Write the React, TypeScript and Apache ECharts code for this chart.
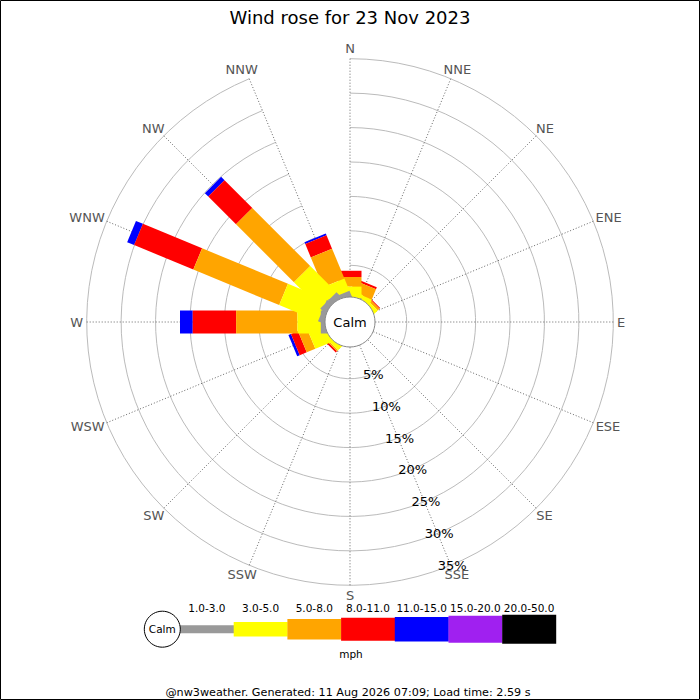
import React, { useEffect, useRef } from "react";
import * as echarts from "echarts";

// ---------- data ----------
const DIRECTIONS = ["N", "NNE", "NE", "ENE", "E", "ESE", "SE", "SSE", "S", "SSW", "SW", "WSW", "W", "WNW", "NW", "NNW"];
const SPEED_BANDS = ["1.0-3.0", "3.0-5.0", "5.0-8.0", "8.0-11.0", "11.0-15.0", "15.0-20.0", "20.0-50.0"];
const BAND_COLORS = ["#999999", "#ffff00", "#ffa500", "#ff0000", "#0000ff", "#a020f0", "#000000"];

// percentage of time per direction for each speed band (mph)
const BAND_1_3 = [0.2, 0, 0, 0, 0, 0, 0, 0, 0, 0, 0, 0, 1.0, 1.1, 1.2, 1.0];
const BAND_3_5 = [1.7, 1.0, 0.8, 0, 0, 0, 0, 0, 0, 0, 0.9, 2.9, 3.4, 6.1, 5.4, 1.9];
const BAND_5_8 = [1.4, 1.6, 0.35, 0, 0, 0, 0, 0, 0, 0, 0.2, 1.35, 8.9, 13.5, 11.9, 4.7];
const BAND_8_11 = [0.9, 0.3, 0.15, 0, 0, 0, 0, 0, 0, 0, 0.25, 1.1, 6.3, 9.3, 5.7, 2.1];
const BAND_11_15 = [0, 0, 0, 0, 0, 0, 0, 0, 0, 0, 0, 0.4, 1.85, 1.1, 0.7, 0.3];
const BAND_15_20 = [0, 0, 0, 0, 0, 0, 0, 0, 0, 0, 0, 0, 0, 0, 0, 0];
const BAND_20_50 = [0, 0, 0, 0, 0, 0, 0, 0, 0, 0, 0, 0, 0, 0, 0, 0];
const BAND_VALUES = [BAND_1_3, BAND_3_5, BAND_5_8, BAND_8_11, BAND_11_15, BAND_15_20, BAND_20_50];

const RADIUS_MIN = 0;
const RADIUS_MAX = 35;
const RADIUS_STEP = 5;

const TITLE = "Wind rose for 23 Nov 2023";
const FOOTER = "@nw3weather. Generated: 11 Aug 2026 07:09; Load time: 2.59 s";
const SPEED_UNIT = "mph";
const CALM_LABEL = "Calm";

// ---------- layout / style ----------
const FONT = "DejaVu Sans";
const CX = 350;
const CY = 322;
const R_INNER = 22.3;
const R_OUTER = 263.3;
const CALM_R = 25;
const BAR_HALF = 11.5;
const DIR_FONT = 13;
const DIR_GAP = 3.6;
const DIR_HALF_H = 6.9;

const LEG_X0 = 180;
const LEG_W = 53.7;
const LEG_CY = 629.2;
const LEG_H = [8, 14.6, 20.6, 23, 24.6, 27, 29];
const LEG_LABEL_Y = 607.7;

function buildStacked() {
  const out: number[][][] = [];
  const acc = DIRECTIONS.map(() => 0);
  BAND_VALUES.forEach((vals) => {
    const items: number[][] = [];
    DIRECTIONS.forEach((_, d) => {
      const s = acc[d];
      const e = s + vals[d];
      acc[d] = e;
      items.push([d, s, e]);
    });
    out.push(items);
  });
  return out;
}

let measureCtx: CanvasRenderingContext2D | null = null;
function textWidth(t: string, size: number) {
  if (!measureCtx) {
    const c = document.createElement("canvas");
    measureCtx = c.getContext("2d");
  }
  if (!measureCtx) return t.length * size * 0.7;
  measureCtx.font = `${size}px "${FONT}"`;
  return measureCtx.measureText(t).width;
}

const renderBar = (params: any, api: any) => {
  const dir = api.value(0);
  const s = api.value(1);
  const e = api.value(2);
  if (!(e - s > 0)) return null;
  const cs = params.coordSys;
  const p0 = api.coord([s, dir]);
  const p1 = api.coord([e, dir]);
  let ux = p1[0] - cs.cx;
  let uy = p1[1] - cs.cy;
  const len = Math.hypot(ux, uy) || 1;
  ux /= len;
  uy /= len;
  const nx = -uy * BAR_HALF;
  const ny = ux * BAR_HALF;
  return {
    type: "polygon",
    shape: {
      points: [
        [p0[0] + nx, p0[1] + ny],
        [p1[0] + nx, p1[1] + ny],
        [p1[0] - nx, p1[1] - ny],
        [p0[0] - nx, p0[1] - ny],
      ],
    },
    style: { fill: api.visual("color") },
  };
};

const renderDirLabel = (params: any, api: any) => {
  const dir = api.value(0);
  const name = DIRECTIONS[dir];
  const cs = params.coordSys;
  const p = api.coord([RADIUS_MAX, dir]);
  let ux = p[0] - cs.cx;
  let uy = p[1] - cs.cy;
  const len = Math.hypot(ux, uy) || 1;
  ux /= len;
  uy /= len;
  const halfW = textWidth(name, DIR_FONT) / 2;
  return {
    type: "text",
    x: p[0] + ux * (DIR_GAP + halfW),
    y: p[1] + uy * (DIR_GAP + DIR_HALF_H),
    style: {
      text: name,
      fontSize: DIR_FONT,
      fontFamily: FONT,
      fill: "#555",
      align: "center",
      verticalAlign: "middle",
    },
  };
};

export default function App() {
  const ref = useRef<HTMLDivElement>(null);

  useEffect(() => {
    if (!ref.current) return;
    const chart = echarts.init(ref.current, undefined, { renderer: "svg" });
    const stacked = buildStacked();

    const series: any[] = [];
    for (let b = SPEED_BANDS.length - 1; b >= 0; b--) {
      series.push({
        type: "custom",
        name: SPEED_BANDS[b],
        coordinateSystem: "polar",
        polarIndex: 0,
        data: stacked[b],
        encode: { angle: 0, radius: [1, 2] },
        itemStyle: { color: BAND_COLORS[b] },
        renderItem: renderBar,
        silent: true,
        z: 3,
      });
    }
    series.push({
      type: "custom",
      name: "directions",
      coordinateSystem: "polar",
      polarIndex: 0,
      data: DIRECTIONS.map((_, i) => [i, RADIUS_MAX]),
      encode: { angle: 0, radius: 1 },
      renderItem: renderDirLabel,
      silent: true,
      z: 4,
    });

    const legendEls: any[] = [];
    SPEED_BANDS.forEach((name, i) => {
      const x = LEG_X0 + i * LEG_W;
      legendEls.push({
        type: "rect",
        shape: { x, y: LEG_CY - LEG_H[i] / 2, width: LEG_W + 0.3, height: LEG_H[i] },
        style: { fill: BAND_COLORS[i] },
      });
      legendEls.push({
        type: "text",
        x: x + LEG_W / 2,
        y: LEG_LABEL_Y,
        style: { text: name, fontSize: 10.5, fontFamily: FONT, fill: "#000", align: "center", verticalAlign: "middle" },
      });
    });

    const option: any = {
      animation: false,
      backgroundColor: "#fff",
      textStyle: { fontFamily: FONT },
      polar: [
        { center: [CX, CY], radius: [R_INNER, R_OUTER] },
        { center: [CX, CY], radius: [R_INNER, R_OUTER] },
      ],
      angleAxis: [
        {
          polarIndex: 0,
          type: "category",
          data: DIRECTIONS,
          boundaryGap: false,
          startAngle: 90,
          clockwise: true,
          axisLine: { show: false },
          axisTick: { show: false },
          axisLabel: { show: false },
          splitLine: { show: true, lineStyle: { color: "#666", width: 1, type: [1, 2] } },
          z: 1,
        },
        {
          polarIndex: 1,
          type: "value",
          min: 0,
          max: 360,
          startAngle: -67.5,
          clockwise: true,
          show: false,
        },
      ],
      radiusAxis: [
        {
          polarIndex: 0,
          type: "value",
          min: RADIUS_MIN,
          max: RADIUS_MAX,
          interval: RADIUS_STEP,
          axisLine: { show: false },
          axisTick: { show: false },
          axisLabel: { show: false },
          splitLine: { show: true, lineStyle: { color: "#bbb", width: 1 } },
          z: 1,
        },
        {
          polarIndex: 1,
          type: "value",
          min: RADIUS_MIN,
          max: RADIUS_MAX,
          interval: RADIUS_STEP,
          axisLine: { show: false },
          axisTick: { show: false },
          splitLine: { show: false },
          axisLabel: {
            show: true,
            color: "#000",
            fontSize: 13,
            fontFamily: FONT,
            margin: 0,
            align: "center",
            verticalAlign: "middle",
            padding: [5, 0, 0, 3],
            formatter: (v: number) => (v === 0 ? "" : v + "%"),
          },
          z: 5,
        },
      ],
      series,
      graphic: [
        {
          type: "rect",
          shape: { x: 0.5, y: 0.5, width: 699, height: 699 },
          style: { fill: "none", stroke: "#000", lineWidth: 1 },
          silent: true,
          z: 10,
        },
        {
          type: "text",
          x: CX,
          y: 17,
          style: { text: TITLE, fontSize: 18, fontFamily: FONT, fill: "#000", align: "center", verticalAlign: "middle" },
        },
        {
          type: "circle",
          shape: { cx: CX, cy: CY, r: CALM_R },
          style: { fill: "#fff", stroke: "#888", lineWidth: 1 },
          z: 20,
        },
        {
          type: "text",
          x: CX,
          y: CY,
          style: { text: CALM_LABEL, fontSize: 13, fontFamily: FONT, fill: "#000", align: "center", verticalAlign: "middle" },
          z: 21,
        },
        ...legendEls,
        {
          type: "circle",
          shape: { cx: 162.3, cy: LEG_CY, r: 18 },
          style: { fill: "#fff", stroke: "#000", lineWidth: 1 },
        },
        {
          type: "text",
          x: 162.3,
          y: LEG_CY,
          style: { text: CALM_LABEL, fontSize: 10.5, fontFamily: FONT, fill: "#000", align: "center", verticalAlign: "middle" },
        },
        {
          type: "text",
          x: 351,
          y: 654.3,
          style: { text: SPEED_UNIT, fontSize: 10.5, fontFamily: FONT, fill: "#000", align: "center", verticalAlign: "middle" },
        },
        {
          type: "text",
          x: 348,
          y: 692.5,
          style: { text: FOOTER, fontSize: 11.2, fontFamily: FONT, fill: "#000", align: "center", verticalAlign: "middle" },
        },
      ],
    };

    chart.setOption(option);
    return () => chart.dispose();
  }, []);

  return <div ref={ref} style={{ position: "absolute", left: 0, top: 0, width: 700, height: 700 }} />;
}
